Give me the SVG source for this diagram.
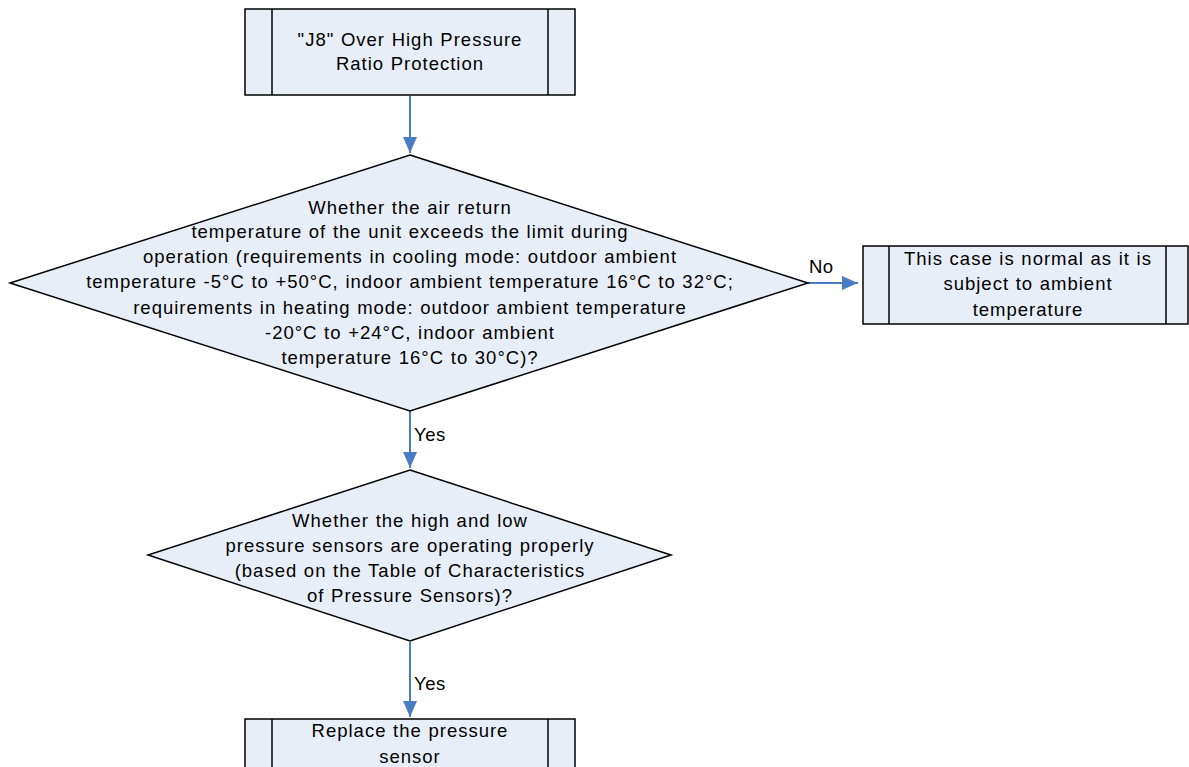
<svg xmlns="http://www.w3.org/2000/svg" width="1189" height="767" viewBox="0 0 1189 767">
<defs>
<style>
.shape{fill:#E8EEF8;stroke:#000;stroke-width:1.5}
.ln{fill:none;stroke:#000;stroke-width:1.5}
.t{font-family:"Liberation Sans",Arial,sans-serif;font-size:18.5px;letter-spacing:1px;word-spacing:0.5px;fill:#000;text-anchor:middle}
.lbl{font-family:"Liberation Sans",Arial,sans-serif;font-size:18.5px;letter-spacing:0.5px;fill:#000}
.c{fill:none;stroke:#4A7CC4;stroke-width:2}
</style>
<marker id="ah2" viewBox="0 0 16 14" refX="16" refY="7" markerWidth="16" markerHeight="14" markerUnits="userSpaceOnUse" orient="auto"><path d="M0,0 L16,7 L0,14 z" fill="#4A7CC4"/></marker>
</defs>
<rect width="1189" height="767" fill="#fff"/>
<g id="connectors">
<line class="c" x1="410" y1="96" x2="410" y2="153" marker-end="url(#ah2)"/>
<line class="c" x1="808" y1="283" x2="858" y2="283" marker-end="url(#ah2)"/>
<line class="c" x1="410" y1="411" x2="410" y2="468" marker-end="url(#ah2)"/>
<line class="c" x1="410" y1="642" x2="410" y2="717" marker-end="url(#ah2)"/>
<text class="lbl" x="809" y="273">No</text>
<text class="lbl" x="414" y="441">Yes</text>
<text class="lbl" x="414" y="690">Yes</text>
</g>
<g id="start">
<rect class="shape" x="245" y="9" width="330" height="86"/>
<line class="ln" x1="272" y1="9" x2="272" y2="95"/>
<line class="ln" x1="548" y1="9" x2="548" y2="95"/>
<text class="t" x="410" y="46">"J8" Over High Pressure</text>
<text class="t" x="410" y="70">Ratio Protection</text>
</g>
<g id="decision1">
<polygon class="shape" points="410,155 808,283 410,411 10,283"/>
<text class="t" x="410" y="214">Whether the air return</text>
<text class="t" x="410" y="238">temperature of the unit exceeds the limit during</text>
<text class="t" x="410" y="263">operation (requirements in cooling mode: outdoor ambient</text>
<text class="t" x="410" y="288">temperature -5°C to +50°C, indoor ambient temperature 16°C to 32°C;</text>
<text class="t" x="410" y="314">requirements in heating mode: outdoor ambient temperature</text>
<text class="t" x="410" y="339">-20°C to +24°C, indoor ambient</text>
<text class="t" x="410" y="364">temperature 16°C to 30°C)?</text>
</g>
<g id="normal">
<rect class="shape" x="863" y="246" width="325" height="78"/>
<line class="ln" x1="889" y1="246" x2="889" y2="324"/>
<line class="ln" x1="1166" y1="246" x2="1166" y2="324"/>
<text class="t" x="1028" y="265">This case is normal as it is</text>
<text class="t" x="1028" y="290">subject to ambient</text>
<text class="t" x="1028" y="316">temperature</text>
</g>
<g id="decision2">
<polygon class="shape" points="410,470 671,555 410,641 148,555"/>
<text class="t" x="410" y="527">Whether the high and low</text>
<text class="t" x="410" y="552">pressure sensors are operating properly</text>
<text class="t" x="410" y="577">(based on the Table of Characteristics</text>
<text class="t" x="410" y="602">of Pressure Sensors)?</text>
</g>
<g id="replace">
<rect class="shape" x="245" y="719" width="330" height="60"/>
<line class="ln" x1="272" y1="719" x2="272" y2="779"/>
<line class="ln" x1="548" y1="719" x2="548" y2="779"/>
<text class="t" x="410" y="737">Replace the pressure</text>
<text class="t" x="410" y="763">sensor</text>
</g>
</svg>
